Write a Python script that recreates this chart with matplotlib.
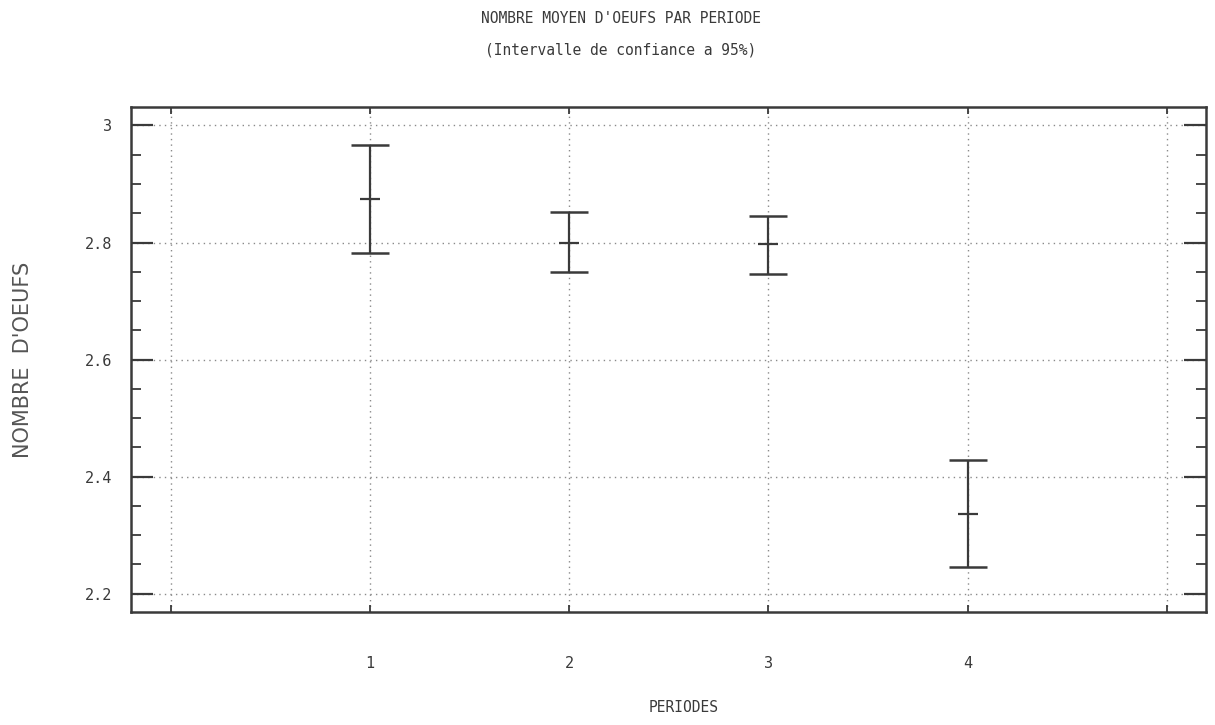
import matplotlib
matplotlib.use("Agg")
import matplotlib.pyplot as plt
from matplotlib.ticker import MultipleLocator

# --- Données ---
periodes = [1, 2, 3, 4]
moyennes = [2.875, 2.800, 2.797, 2.336]
borne_inf = [2.782, 2.749, 2.746, 2.246]
borne_sup = [2.966, 2.852, 2.846, 2.428]
y_ticks = [2.2, 2.4, 2.6, 2.8, 3.0]
y_labels = ["2.2", "2.4", "2.6", "2.8", "3"]

INK = "#3a3a3a"
MONO = "DejaVu Sans Mono"

fig = plt.figure(figsize=(12.15, 7.25), dpi=100)
ax = fig.add_axes([0.108, 0.156, 0.885, 0.696])

err_bas = [m - b for m, b in zip(moyennes, borne_inf)]
err_haut = [h - m for m, h in zip(moyennes, borne_sup)]
ax.errorbar(periodes, moyennes, yerr=[err_bas, err_haut], fmt="none",
            ecolor=INK, elinewidth=1.6, capsize=14, capthick=1.8, zorder=3)
ax.plot(periodes, moyennes, ls="none", marker="_", ms=14, mew=1.6, color=INK, zorder=3)

ax.set_xlim(-0.2, 5.2)
ax.set_ylim(2.169, 3.031)

# grille pointillée en x = 0..5, graduations 1..4
ax.set_xticks(range(0, 6))
ax.set_xticklabels(["", "1", "2", "3", "4", ""])
ax.set_yticks(y_ticks)
ax.set_yticklabels(y_labels)
ax.yaxis.set_minor_locator(MultipleLocator(0.05))
ax.grid(True, which="major", ls=(0, (1, 3)), lw=1.0, color="#8a8a8a")

ax.tick_params(axis="y", which="major", direction="in", length=16, width=1.6,
               left=True, right=True, colors=INK, labelsize=11, pad=14)
ax.tick_params(axis="y", which="minor", direction="in", length=7, width=1.3,
               left=True, right=True, colors=INK)
ax.tick_params(axis="x", which="major", direction="in", length=5, width=1.3,
               top=True, bottom=True, colors=INK, labelsize=11, pad=32)
for lab in ax.get_xticklabels() + ax.get_yticklabels():
    lab.set_family(MONO)

for sp in ax.spines.values():
    sp.set_linewidth(1.8)
    sp.set_color(INK)

fig.text(0.511, 0.975, "NOMBRE MOYEN D'OEUFS PAR PERIODE", ha="center", va="center",
         family=MONO, fontsize=10.5, color=INK)
fig.text(0.511, 0.931, "(Intervalle de confiance a 95%)", ha="center", va="center",
         family=MONO, fontsize=10.5, color=INK)
fig.text(0.563, 0.024, "PERIODES", ha="center", va="center",
         family=MONO, fontsize=10.5, color=INK)
fig.text(0.019, 0.503, "NOMBRE  D'OEUFS", ha="center", va="center", rotation=90,
         family="DejaVu Sans", fontsize=15, color="#555555")

plt.savefig("out.png", dpi=100)
